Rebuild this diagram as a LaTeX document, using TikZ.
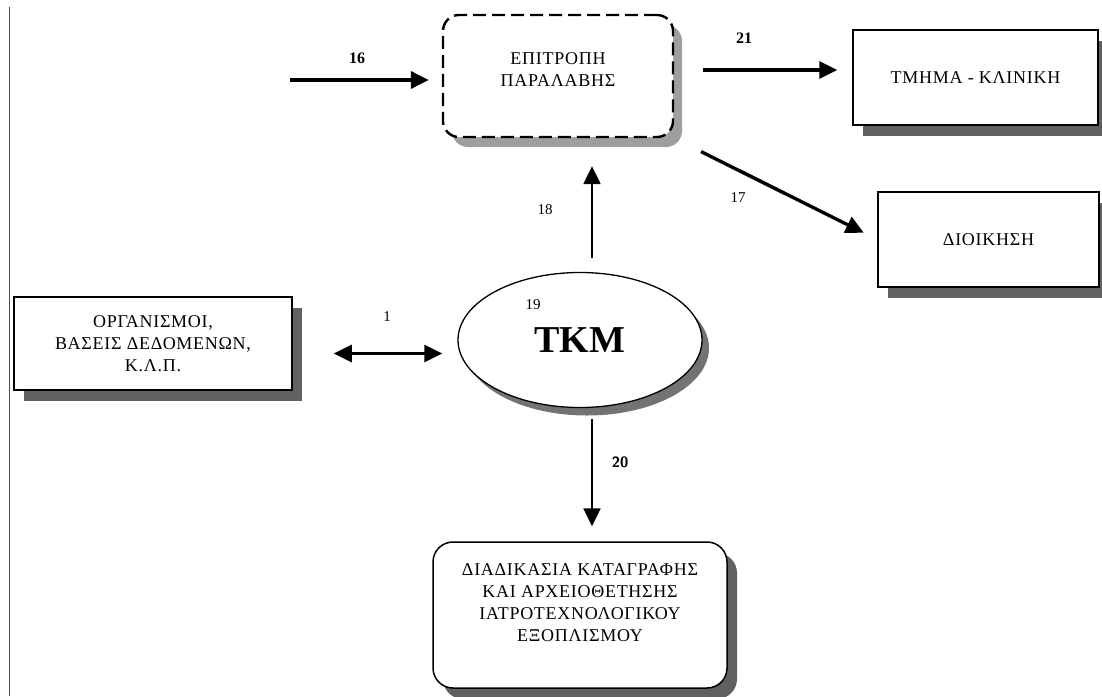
\documentclass[tikz,border=0pt]{standalone}
\usepackage{fontspec}
\setmainfont{Liberation Serif}
\newfontfamily\boxfont[LetterSpace=4]{Liberation Serif}
\usetikzlibrary{arrows.meta,shapes.geometric,shadows}

\begin{document}
\begin{tikzpicture}[x=1pt, y=-1pt,
    box/.style={draw, line width=1.5pt, fill=white, align=center, inner sep=0pt,
      font=\boxfont\fontsize{18}{22}\selectfont},
    darkshadow/.style={drop shadow={shadow xshift=10pt, shadow yshift=-11pt, fill=black!62, opacity=1}},
    lightshadow/.style={drop shadow={shadow xshift=9pt, shadow yshift=-10pt, fill=black!38, opacity=1}},
    flow/.style={line width=3.4pt, -{Triangle[length=18pt,width=17pt]}},
    num/.style={font=\fontsize{15}{15}\selectfont}]
  \useasboundingbox (0, 0) rectangle (1102, 696);
  \draw [black!70, line width=1pt] (9, 7) -- (9, 696);
  \draw (558, 76) node (epit) [box, lightshadow, rounded corners=16pt, line width=2.4pt, text depth=13pt,
          dash pattern=on 13pt off 6pt, minimum width=230pt, minimum height=122pt] {ΕΠΙΤΡΟΠΗ\\ΠΑΡΑΛΑΒΗΣ}
        (975.5, 77.5) node (tmima) [box, darkshadow, minimum width=245pt, minimum height=95pt] {ΤΜΗΜΑ - ΚΛΙΝΙΚΗ}
        (988.5, 239.5) node (dioik) [box, darkshadow, minimum width=221pt, minimum height=95pt] {ΔΙΟΙΚΗΣΗ}
        (153, 343.5) node (org) [box, darkshadow, minimum width=278pt, minimum height=93pt] {ΟΡΓΑΝΙΣΜΟΙ,\\ΒΑΣΕΙΣ ΔΕΔΟΜΕΝΩΝ,\\Κ.Λ.Π.}
        (580, 615) node (diad) [box, darkshadow, rounded corners=20pt, text depth=25pt, minimum width=294pt, minimum height=146pt]
          {ΔΙΑΔΙΚΑΣΙΑ ΚΑΤΑΓΡΑΦΗΣ\\ΚΑΙ ΑΡΧΕΙΟΘΕΤΗΣΗΣ\\ΙΑΤΡΟΤΕΧΝΟΛΟΓΙΚΟΥ\\ΕΞΟΠΛΙΣΜΟΥ}
        (580, 340) node (tkm) [ellipse, draw, line width=1.3pt, fill=white, inner sep=0pt,
          minimum width=244pt, minimum height=135pt, font=\bfseries\fontsize{38}{38}\selectfont,
          drop shadow={shadow xshift=7pt, shadow yshift=-8pt, fill=black!55, opacity=1}] {ΤΚΜ};
  \coordinate (src) at (290, 80);
  \draw (357, 58) node (l16) [num, font=\bfseries\fontsize{16}{16}\selectfont] {16}
        (744, 38) node (l21) [num, font=\bfseries\fontsize{16}{16}\selectfont] {21}
        (738, 198) node (l17) [num] {17}
        (545, 210) node (l18) [num] {18}
        (533, 305) node (l19) [num] {19}
        (387, 317) node (l1) [num] {1}
        (620, 462) node (l20) [num, font=\bfseries\sffamily\fontsize{15}{15}\selectfont] {20};
  \draw [flow, shorten >=13pt] (src) -- (epit.west |- src);
  \draw [flow, shorten <=29pt, shorten >=15pt] ([yshift=6pt]epit.east) -- ([yshift=6pt]epit.east -| tmima.west);
  \draw [flow, shorten <=30pt, shorten >=15pt] (epit.south east) -- (dioik.west);
  \draw [flow, line width=2.4pt, shorten <=14pt, shorten >=28pt] ([xshift=12pt]tkm.north) -- ([xshift=12pt]tkm.north |- epit.south);
  \draw [flow, line width=2.4pt, shorten <=11pt, shorten >=15pt] ([xshift=12pt]tkm.south) -- ([xshift=12pt]tkm.south |- diad.north);
  \draw [line width=3pt, {Triangle[length=18pt,width=17pt]}-{Triangle[length=18pt,width=17pt]},
         shorten <=41pt, shorten >=15pt] ([yshift=-10pt]org.east) -- ([yshift=-10pt]org.east -| tkm.west);
\end{tikzpicture}
\end{document}
